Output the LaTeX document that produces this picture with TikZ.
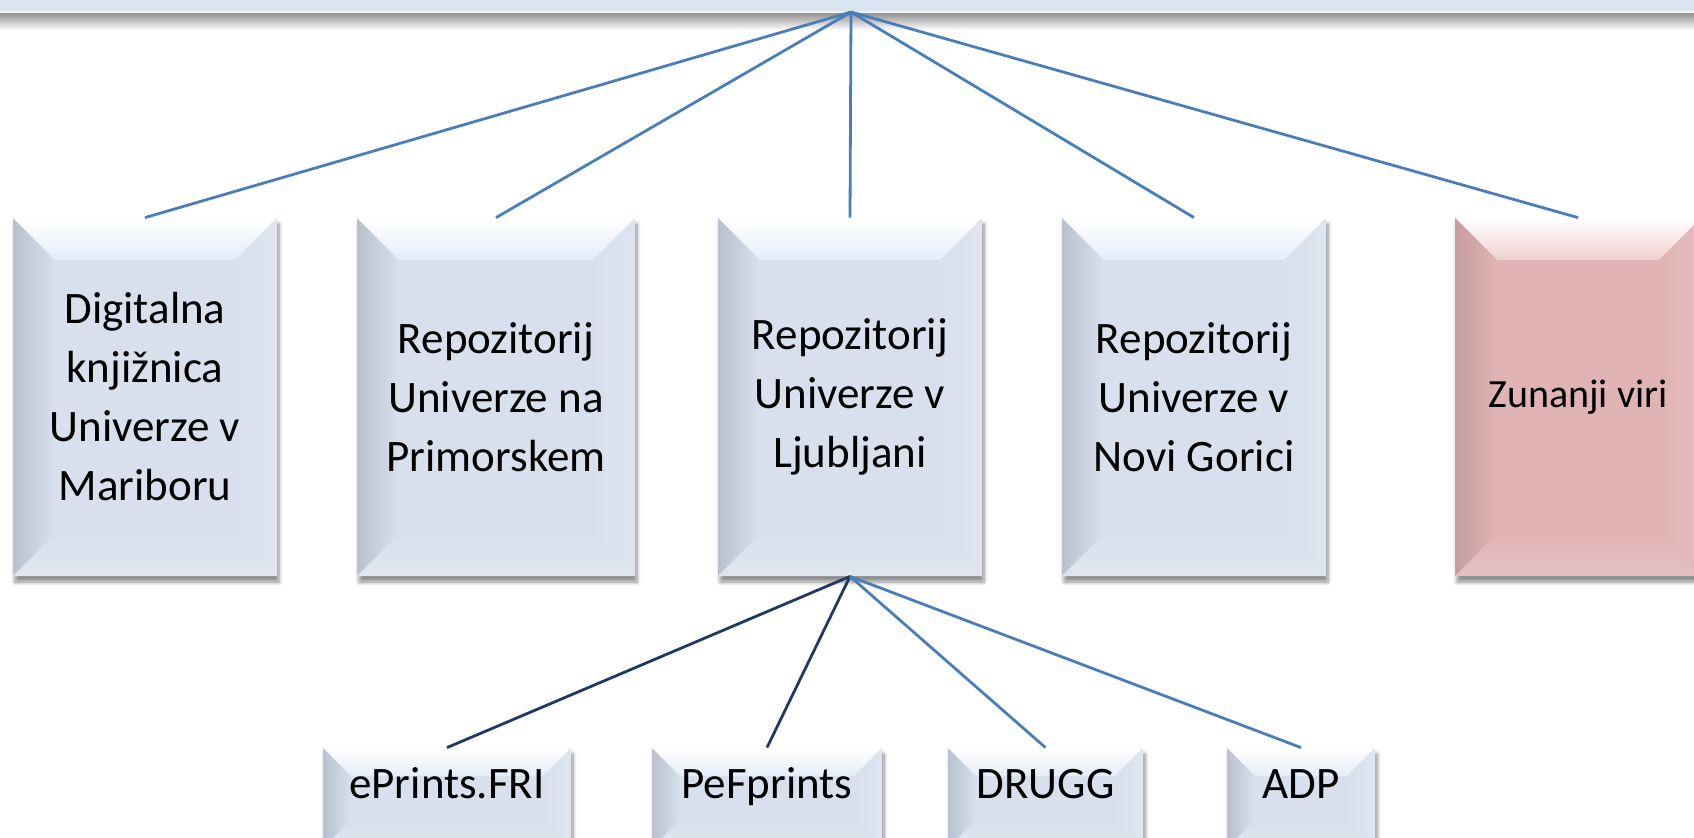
\documentclass[tikz,border=0pt]{standalone}
\usepackage{fontspec}
\setmainfont{Carlito}
\usetikzlibrary{shadows,shadows.blur}
\definecolor{bB}{RGB}{215,224,236}
\definecolor{bL}{RGB}{184,193,206}
\definecolor{bT}{RGB}{228,237,249}
\definecolor{bR}{RGB}{221,229,240}
\definecolor{bD}{RGB}{223,230,240}
\definecolor{pB}{RGB}{224,180,181}
\definecolor{pL}{RGB}{198,156,158}
\definecolor{pT}{RGB}{240,207,208}
\definecolor{pR}{RGB}{227,187,188}
\definecolor{pD}{RGB}{230,192,193}
\definecolor{barfill}{RGB}{219,229,241}
\definecolor{lnblue}{RGB}{74,126,187}
\definecolor{lndark}{RGB}{32,56,100}
\def\bevsz{21pt}
\newcommand\bevelpic[5]{%
  \path (path picture bounding box.south west) coordinate (bsw)
        (path picture bounding box.north east) coordinate (bne)
        (path picture bounding box.north west) coordinate (bnw)
        (path picture bounding box.south east) coordinate (bse);
  \fill[#1] (bsw) rectangle (bne);
  \shade[top color=white, middle color=white, bottom color=#3]
    (bnw) -- (bne) -- ([shift={(-\bevsz,-\bevsz)}]bne) -- ([shift={(\bevsz,-\bevsz)}]bnw) -- cycle;
  \shade[left color=#2, right color=#1]
    (bnw) -- ([shift={(\bevsz,-\bevsz)}]bnw) -- ([shift={(\bevsz,\bevsz)}]bsw) -- (bsw) -- cycle;
  \shade[left color=#1, right color=#4]
    (bne) -- (bse) -- ([shift={(-\bevsz,\bevsz)}]bse) -- ([shift={(-\bevsz,-\bevsz)}]bne) -- cycle;
  \shade[top color=#1, bottom color=#5]
    (bsw) -- ([shift={(\bevsz,\bevsz)}]bsw) -- ([shift={(-\bevsz,\bevsz)}]bse) -- (bse) -- cycle;
}
\tikzset{
  bevelsize/.code={\def\bevsz{#1}},
  boxbase/.style={inner sep=0pt, align=center, text=black,
    blur shadow={shadow xshift=1pt, shadow yshift=-3pt, shadow blur steps=6, shadow opacity=45}},
  bluebox/.style={boxbase, fill=bB, path picture={\bevelpic{bB}{bL}{bT}{bR}{bD}}},
  pinkbox/.style={boxbase, fill=pB, path picture={\bevelpic{pB}{pL}{pT}{pR}{pD}}},
  bigbox/.style={bluebox, bevelsize=21pt, minimum height=179pt,
    font=\fontsize{22.5}{29.5}\selectfont},
  smallbox/.style={bluebox, bevelsize=14pt, minimum height=50pt,
    text height=10pt, text depth=10pt,
    font=\fontsize{22.5}{26}\selectfont},
  blueline/.style={draw=lnblue, line width=1.4pt},
  darkline/.style={draw=lndark, line width=1.4pt},
}
\begin{document}
\begin{tikzpicture}[x=0.5pt, y=-0.5pt]
\useasboundingbox (0,0) rectangle (1694,837);
% top bar with shadow
\shade[top color=black!45, bottom color=white] (0,12) rectangle (1694,30);
\fill[barfill] (0,-2) rectangle (1694,11);
\fill[white!60!barfill] (0,11) rectangle (1694,13);
\coordinate (apex) at (851,12);
% main boxes
\node[bigbox, minimum width=132pt] (b1) at (145,397) {Digitalna\\knjižnica\\Univerze v\\Mariboru};
\node[bigbox, minimum width=139pt] (b2) at (496,397) {Repozitorij\\Univerze na\\Primorskem};
\node[bigbox, minimum width=132pt] (b3) at (850,397) {Repozitorij\\Univerze v\\Ljubljani};
\node[bigbox, minimum width=132pt] (b4) at (1194,397) {Repozitorij\\Univerze v\\Novi Gorici};
\node[pinkbox, bevelsize=21pt, minimum height=179pt, minimum width=123pt,
      font=\fontsize{20}{24}\selectfont] (b5) at (1578,397) {Zunanji viri};
% bottom boxes
\node[smallbox, minimum width=124pt] (s1) at (447,798) {ePrints.FRI};
\node[smallbox, minimum width=115pt] (s2) at (767,798) {PeFprints};
\node[smallbox, minimum width=97.5pt] (s3) at (1045.5,798) {DRUGG};
\node[smallbox, minimum width=74pt] (s4) at (1301,798) {ADP};
% connectors
\foreach \b in {b1,b2,b3,b4,b5} \draw[blueline] (apex) -- (\b.north);
\draw[darkline] (b3.south) -- (s1.north);
\draw[darkline] (b3.south) -- (s2.north);
\draw[blueline] (b3.south) -- (s3.north);
\draw[blueline] (b3.south) -- (s4.north);
\end{tikzpicture}
\end{document}
